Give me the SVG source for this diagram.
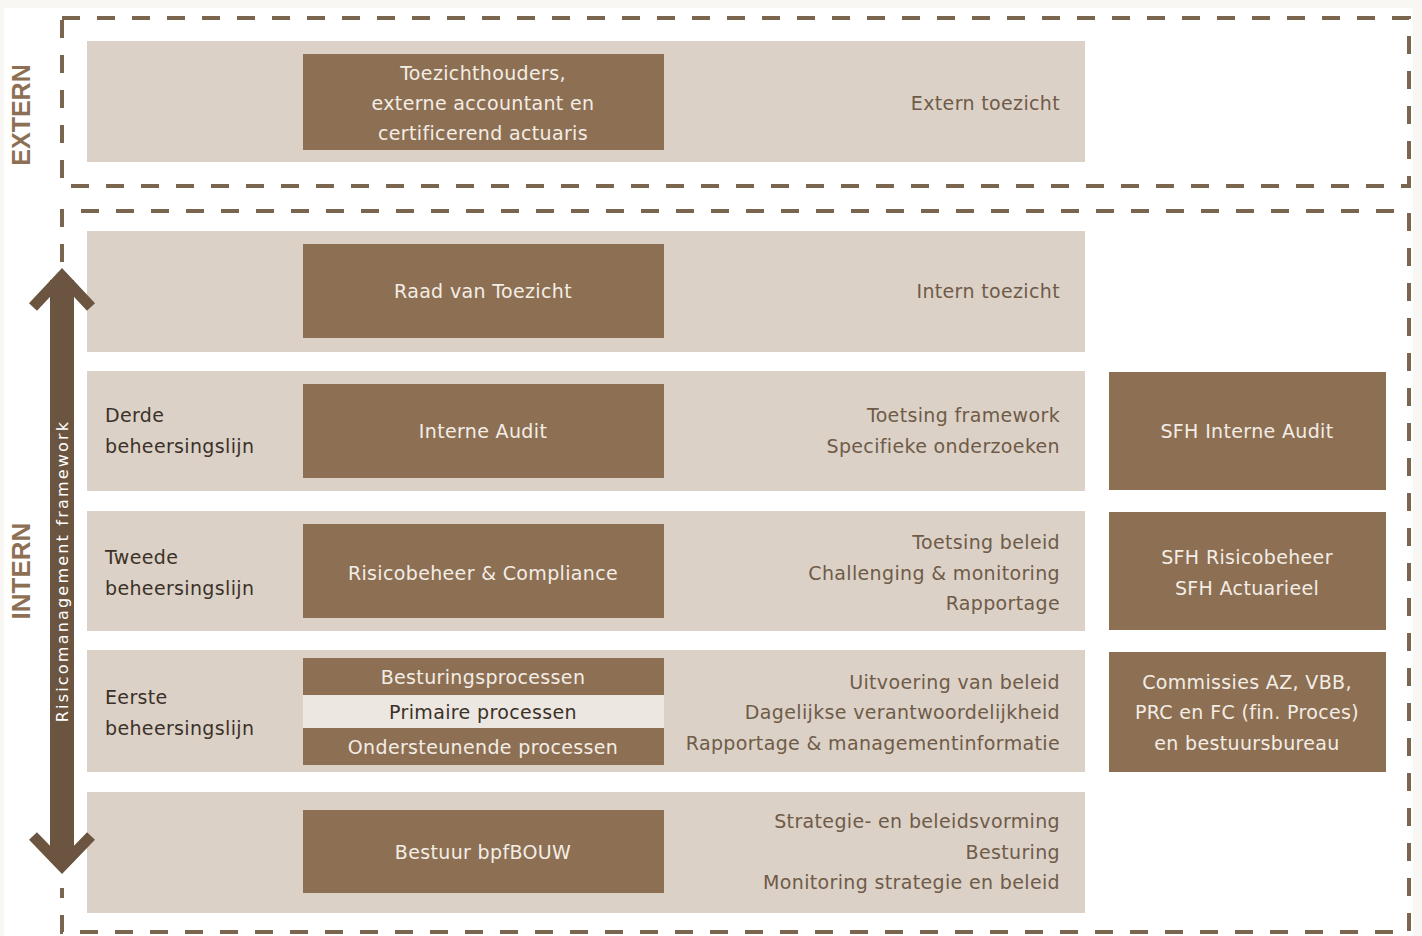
<svg xmlns="http://www.w3.org/2000/svg" width="1422" height="936" viewBox="0 0 1422 936">
<style>
.band{fill:#dbd1c7}
.box{fill:#8d7053}
.light{fill:#ede7e1}
.dash{fill:none;stroke:#7a654f;stroke-width:4;stroke-dasharray:18 17}
text{font-family:"DejaVu Sans",Verdana,sans-serif;font-size:19px;letter-spacing:0.35px}
.bt{fill:#f3ede6;text-anchor:middle}
.dt{fill:#3b3129;text-anchor:middle}
.lt{fill:#3b3129}
.rt{fill:#6f5b48;text-anchor:end}
.side{font-family:"Liberation Sans",Arial,sans-serif;font-weight:bold;font-size:25px;fill:#8d7053;text-anchor:middle;letter-spacing:0}
</style>
<rect width="1422" height="936" fill="#f9f7f4"/>
<rect x="4" y="8" width="1409" height="928" fill="#ffffff"/>

<g id="frames">
<rect class="dash" x="62" y="18" width="1347" height="168"/>
<path class="dash" d="M62,262 L62,211 L1409,211 L1409,932 L62,932 L62,888"/>
</g>

<g id="labels">
<text class="side" transform="translate(30,115) rotate(-90)">EXTERN</text>
<text class="side" transform="translate(30,571) rotate(-90)" style="font-size:26px">INTERN</text>
</g>

<g id="extern">
<rect class="band" x="87" y="41" width="998" height="121"/>
<rect class="box" x="303" y="54" width="361" height="96"/>
<text class="bt" x="483" y="80">Toezichthouders,</text>
<text class="bt" x="483" y="110">externe accountant en</text>
<text class="bt" x="483" y="140">certificerend actuaris</text>
<text class="rt" x="1060" y="110">Extern toezicht</text>
</g>

<g id="raad">
<rect class="band" x="87" y="231" width="998" height="121"/>
<rect class="box" x="303" y="244" width="361" height="94"/>
<text class="bt" x="483" y="298">Raad van Toezicht</text>
<text class="rt" x="1060" y="298">Intern toezicht</text>
</g>

<g id="derde">
<rect class="band" x="87" y="371" width="998" height="120"/>
<text class="lt" x="105" y="422">Derde</text>
<text class="lt" x="105" y="453">beheersingslijn</text>
<rect class="box" x="303" y="384" width="361" height="94"/>
<text class="bt" x="483" y="438">Interne Audit</text>
<text class="rt" x="1060" y="422">Toetsing framework</text>
<text class="rt" x="1060" y="453">Specifieke onderzoeken</text>
</g>
<g id="sfh-audit">
<rect class="box" x="1109" y="372" width="277" height="118"/>
<text class="bt" x="1247" y="438">SFH Interne Audit</text>
</g>

<g id="tweede">
<rect class="band" x="87" y="511" width="998" height="120"/>
<text class="lt" x="105" y="564">Tweede</text>
<text class="lt" x="105" y="595">beheersingslijn</text>
<rect class="box" x="303" y="524" width="361" height="94"/>
<text class="bt" x="483" y="580">Risicobeheer &amp; Compliance</text>
<text class="rt" x="1060" y="549">Toetsing beleid</text>
<text class="rt" x="1060" y="580">Challenging &amp; monitoring</text>
<text class="rt" x="1060" y="610">Rapportage</text>
</g>
<g id="sfh-risico">
<rect class="box" x="1109" y="512" width="277" height="118"/>
<text class="bt" x="1247" y="564">SFH Risicobeheer</text>
<text class="bt" x="1247" y="595">SFH Actuarieel</text>
</g>

<g id="eerste">
<rect class="band" x="87" y="650" width="998" height="122"/>
<text class="lt" x="105" y="704">Eerste</text>
<text class="lt" x="105" y="735">beheersingslijn</text>
<rect class="box" x="303" y="658" width="361" height="37"/>
<rect class="light" x="303" y="695" width="361" height="33"/>
<rect class="box" x="303" y="728" width="361" height="37"/>
<text class="bt" x="483" y="684">Besturingsprocessen</text>
<text class="dt" x="483" y="719">Primaire processen</text>
<text class="bt" x="483" y="754">Ondersteunende processen</text>
<text class="rt" x="1060" y="689">Uitvoering van beleid</text>
<text class="rt" x="1060" y="719">Dagelijkse verantwoordelijkheid</text>
<text class="rt" x="1060" y="750">Rapportage &amp; managementinformatie</text>
</g>
<g id="commissies">
<rect class="box" x="1109" y="652" width="277" height="120"/>
<text class="bt" x="1247" y="689">Commissies AZ, VBB,</text>
<text class="bt" x="1247" y="719">PRC en FC (fin. Proces)</text>
<text class="bt" x="1247" y="750">en bestuursbureau</text>
</g>

<g id="bestuur">
<rect class="band" x="87" y="792" width="998" height="121"/>
<rect class="box" x="303" y="810" width="361" height="83"/>
<text class="bt" x="483" y="859">Bestuur bpfBOUW</text>
<text class="rt" x="1060" y="828">Strategie- en beleidsvorming</text>
<text class="rt" x="1060" y="859">Besturing</text>
<text class="rt" x="1060" y="889">Monitoring strategie en beleid</text>
</g>

<g id="connectors">
<rect x="50" y="280" width="24" height="582" fill="#6b5540"/>
<polyline points="33,307 62,276 91,307" fill="none" stroke="#6b5540" stroke-width="11" stroke-linecap="butt" stroke-linejoin="miter"/>
<polyline points="33,836 62,866 91,836" fill="none" stroke="#6b5540" stroke-width="11" stroke-linecap="butt" stroke-linejoin="miter"/>
<text transform="translate(68,571) rotate(-90)" style="font-size:16px;letter-spacing:2.2px;fill:#ffffff;text-anchor:middle">Risicomanagement framework</text>
</g>
</svg>
